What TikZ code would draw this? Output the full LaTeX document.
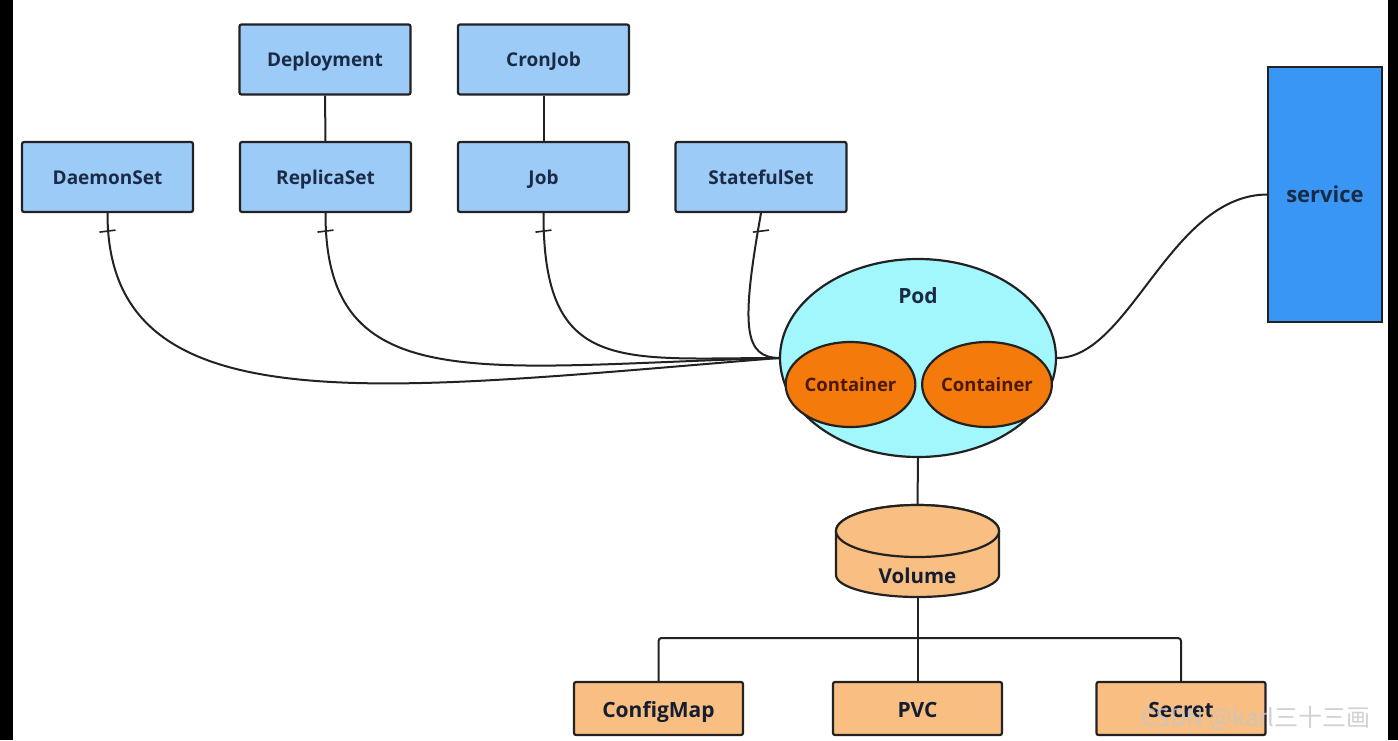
\documentclass[tikz,border=0pt]{standalone}
\usepackage{fontspec}
\setmainfont{Open Sans}
\newfontfamily\cjkfont{Noto Sans CJK SC}
\usetikzlibrary{positioning}
\usetikzlibrary{shapes.geometric}

\definecolor{kindblue}{HTML}{9CCBF8}
\definecolor{svcblue}{HTML}{3A96F5}
\definecolor{podcyan}{HTML}{A2F7FC}
\definecolor{ctrorange}{HTML}{F57A0C}
\definecolor{volorange}{HTML}{F8BE82}
\definecolor{labelnavy}{HTML}{1C2B45}
\definecolor{ctrbrown}{HTML}{4A1A05}
\definecolor{edgegray}{HTML}{222222}

\begin{document}
\begin{tikzpicture}[x=1pt,y=-1pt,
  kind/.style={draw=edgegray, line width=2.2pt, fill=kindblue, rounded corners=2pt,
    minimum width=171pt, minimum height=70pt, text=labelnavy,
    text height=14pt, text depth=0pt,
    font=\fontsize{19}{22}\selectfont\bfseries},
  svc/.style={draw=edgegray, line width=1.6pt, fill=svcblue, minimum width=114pt,
    minimum height=255pt, text=labelnavy, font=\fontsize{22}{25}\selectfont\bfseries},
  podshape/.style={ellipse, draw=edgegray, line width=2.2pt, fill=podcyan,
    minimum width=276pt, minimum height=198pt, inner sep=0pt},
  ctr/.style={ellipse, draw=edgegray, line width=2.2pt, fill=ctrorange, text=ctrbrown,
    minimum width=125pt, minimum height=85pt, inner sep=0pt,
    font=\fontsize{18.5}{21}\selectfont\bfseries},
  leaf/.style={draw=edgegray, line width=2.2pt, fill=volorange, rounded corners=2pt,
    minimum width=169pt, minimum height=53pt, text=labelnavy!70!black,
    text height=17pt, text depth=0pt,
    font=\fontsize{21}{24}\selectfont\bfseries},
  link/.style={draw=edgegray, line width=2pt},
  tickmark/.style={draw=edgegray, line width=1.6pt}]

% Frame
\fill[white] (0,0) rectangle (1398,740);
\fill[black] (0,0) rectangle (13,740);
\fill[black] (1388,0) rectangle (1398,740);

% Controllers
\node (dep) [kind] at (325,59.5) {Deployment};
\node (cron) [kind] at (543.5,59.5) {CronJob};
\node (ds) [kind] at (107.5,177) {DaemonSet};
\node (rs) [kind] at (325.5,177) {ReplicaSet};
\node (job) [kind] at (543.5,177) {Job};
\node (sts) [kind] at (761,177) {StatefulSet};
\draw[link] (dep) -- (rs);
\draw[link] (cron) -- (job);

% Service
\node (svc) [svc] at (1325,194.5) {service};

% Pod
\node (pod) [podshape] at (918,358) {};
\node (podname) [text=labelnavy, font=\fontsize{21}{24}\selectfont\bfseries] at (918,296) {Pod};
\node (c1) [ctr] at (850.5,384.5) {Container};
\node (c2) [ctr] at (987,384.5) {Container};

% Controllers to pod
\draw[link] (ds.south) .. controls (107,430) and (380,390) .. (pod.west);
\draw[link] (rs.south) .. controls (325,400) and (480,366) .. (pod.west);
\draw[link] (job.south) .. controls (543,375) and (620,358) .. (pod.west);
\draw[link] (sts.south) .. controls (740,330) and (745,357) .. (pod.west);
\foreach \k in {ds,rs,job,sts}
  \draw[tickmark] (\k.south) ++(-8,19) -- ++(16,-2);

% Pod to service
\draw[link] (pod.east) .. controls (1130,358) and (1170,195) .. (svc.west);

% Volume
\filldraw[fill=volorange, draw=edgegray, line width=2.2pt]
  (836,531) -- (836,575) arc[start angle=180, end angle=0, x radius=81.5, y radius=22]
  -- (999,531) arc[start angle=0, end angle=-180, x radius=81.5, y radius=26] -- cycle;
\filldraw[fill=volorange, draw=edgegray, line width=2.2pt] (917.5,531) ellipse [x radius=81.5, y radius=26];
\node (vol) [minimum width=163pt, minimum height=92pt, inner sep=0pt] at (917.5,551) {};
\node (volname) [text=labelnavy!70!black, font=\fontsize{20.5}{24}\selectfont\bfseries] at (917.5,576) {Volume};
\draw[link] (pod.south) -- (vol.north);

% Volume types
\node (cm) [leaf] at (658.5,708.5) {ConfigMap};
\node (pvc) [leaf] at (917.5,708.5) {PVC};
\node (sec) [leaf] at (1181,708.5) {Secret};
\coordinate (fork) at (917.5,638);
\draw[link] (vol.south) -- (pvc.north);
\draw[link, rounded corners=3pt] (cm.north) |- (fork) -| (sec.north);

% Watermark
\node (mark) [text=gray!45, opacity=0.8, font=\cjkfont\fontsize{24}{26}\selectfont] at (1256,718) {CSDN @karl三十三画};
\end{tikzpicture}
\end{document}
